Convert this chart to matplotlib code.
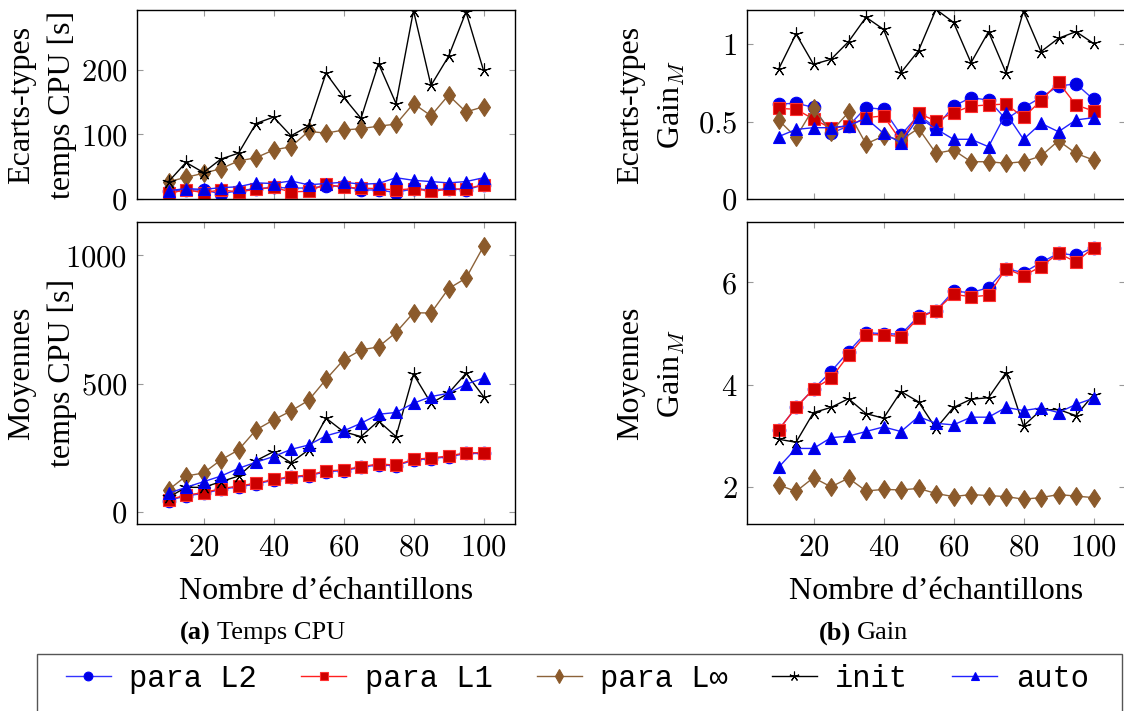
import matplotlib
matplotlib.use('Agg')
import matplotlib.pyplot as plt
from matplotlib.ticker import FuncFormatter
from matplotlib.lines import Line2D
from matplotlib.patches import Rectangle

plt.rcParams['font.family'] = ['Liberation Serif', 'DejaVu Serif']
plt.rcParams['mathtext.fontset'] = 'cm'

# nombre d'echantillons
n = [10, 15, 20, 25, 30, 35, 40, 45, 50, 55, 60, 65, 70, 75, 80, 85, 90, 95, 100]

# (a) temps CPU - ecarts-types
std_cpu_l2 = [12, 14, 14, 8, 13, 16, 18, 17, 17, 20, 20, 14, 14, 10, 16, 14, 16, 14, 22]
std_cpu_l1 = [9, 14, 10, 14, 11, 15, 18, 11, 12, 23, 18, 17, 16, 14, 16, 12, 15, 16, 22]
std_cpu_linf = [27, 33.5, 40, 47, 59, 64, 76, 81, 105, 102, 107, 109, 113, 116, 148, 129, 161, 135, 143]
std_cpu_init = [26.8, 56.7, 41, 62, 71, 117, 127, 98, 113, 195, 158, 125, 210, 148, 292, 176, 221, 290, 199.5]
std_cpu_auto = [13, 16, 15, 17.5, 19, 25, 24, 28, 22, 24, 26, 23, 24, 33, 29, 27, 25, 27, 33]

# (a) temps CPU - moyennes
moy_cpu_l2 = [43, 62, 71, 87, 97, 108, 123, 134, 140, 156, 160, 173, 183, 179, 201, 207, 214, 227, 227]
moy_cpu_l1 = [46, 65, 74, 90, 100, 111, 126, 137, 143, 159, 163, 176, 186, 182, 204, 210, 217, 230, 230]
moy_cpu_linf = [85, 139, 151, 202, 241, 319, 358, 393, 434, 516, 592, 631, 643, 699, 776, 775, 870, 911, 1035]
moy_cpu_init = [56, 95, 95, 117, 139, 199, 234, 191, 241, 365, 312, 293, 354, 293, 536, 423, 462, 540, 449]
moy_cpu_auto = [72, 95, 117, 139, 169, 193, 215, 243, 260, 296, 315, 345, 380, 387, 423, 449, 462, 497, 521]

# (b) gain - ecarts-types
std_gain_l2 = [0.614, 0.619, 0.593, 0.425, 0.472, 0.591, 0.580, 0.414, 0.543, 0.461, 0.601, 0.655, 0.640, 0.515, 0.591, 0.657, 0.731, 0.744, 0.644]
std_gain_l1 = [0.586, 0.580, 0.517, 0.457, 0.472, 0.526, 0.537, 0.375, 0.554, 0.504, 0.558, 0.601, 0.608, 0.614, 0.528, 0.636, 0.754, 0.608, 0.569]
std_gain_linf = [0.511, 0.399, 0.586, 0.435, 0.560, 0.356, 0.407, 0.381, 0.457, 0.295, 0.317, 0.241, 0.241, 0.231, 0.241, 0.278, 0.377, 0.295, 0.252]
std_gain_init = [0.838, 1.067, 0.871, 0.903, 1.017, 1.175, 1.097, 0.817, 0.959, 1.226, 1.142, 0.881, 1.082, 0.817, 1.216, 0.953, 1.039, 1.082, 1.006]
std_gain_auto = [0.403, 0.450, 0.461, 0.461, 0.474, 0.522, 0.425, 0.364, 0.528, 0.453, 0.386, 0.386, 0.338, 0.554, 0.386, 0.489, 0.435, 0.511, 0.526]

# (b) gain - moyennes
moy_gain_l2 = [3.12, 3.56, 3.92, 4.26, 4.65, 5.02, 5.00, 4.99, 5.34, 5.45, 5.83, 5.80, 5.90, 6.27, 6.19, 6.39, 6.57, 6.53, 6.68]
moy_gain_l1 = [3.12, 3.56, 3.92, 4.13, 4.58, 4.98, 4.98, 4.94, 5.31, 5.45, 5.77, 5.72, 5.75, 6.27, 6.13, 6.31, 6.57, 6.40, 6.68]
moy_gain_linf = [2.05, 1.92, 2.19, 2.01, 2.18, 1.93, 1.96, 1.95, 1.98, 1.88, 1.82, 1.86, 1.84, 1.82, 1.77, 1.80, 1.86, 1.83, 1.80]
moy_gain_init = [2.94, 2.88, 3.46, 3.56, 3.73, 3.44, 3.35, 3.87, 3.67, 3.15, 3.56, 3.72, 3.75, 4.24, 3.20, 3.51, 3.52, 3.40, 3.81]
moy_gain_auto = [2.39, 2.76, 2.76, 2.97, 3.00, 3.09, 3.18, 3.09, 3.38, 3.25, 3.22, 3.37, 3.37, 3.56, 3.50, 3.55, 3.46, 3.62, 3.74]

labels = ['para L2', 'para L1', 'para L\u221e', 'init', 'auto']

# style de chaque courbe : couleur ligne, marqueur, remplissage, bord, taille
styles = {
    'para L2': dict(color='#3333ff', marker='o', mfc='#0000e0', mec='#0000ff', ms=9),
    'para L1': dict(color='#ff2020', marker='s', mfc='#cc0000', mec='#ff3030', ms=8.5),
    'para L\u221e': dict(color='#8c6239', marker='d', mfc='#8b5a2b', mec='#8b5a2b', ms=9.5),
    'init': dict(color='black', marker=(5, 2, 0), mfc='black', mec='black', ms=10),
    'auto': dict(color='#2222ff', marker='^', mfc='#0000e0', mec='#0000ff', ms=9),
}

W, H = 1124, 711
fig = plt.figure(figsize=(W / 100, H / 100), dpi=100)


def box(l, t, r, b):
    return [l / W, 1 - b / H, (r - l) / W, (b - t) / H]


ax_tl = fig.add_axes(box(137, 10, 515, 199))
ax_bl = fig.add_axes(box(137, 222, 515, 524))
ax_tr = fig.add_axes(box(747, 10, 1125, 199))
ax_br = fig.add_axes(box(747, 222, 1125, 524))

panels = [
    (ax_tl, [std_cpu_l2, std_cpu_l1, std_cpu_linf, std_cpu_init, std_cpu_auto], (0, 293), [0, 100, 200], 'Ecarts-types\ntemps CPU [s]'),
    (ax_bl, [moy_cpu_l2, moy_cpu_l1, moy_cpu_linf, moy_cpu_init, moy_cpu_auto], (-48, 1130), [0, 500, 1000], 'Moyennes\ntemps CPU [s]'),
    (ax_tr, [std_gain_l2, std_gain_l1, std_gain_linf, std_gain_init, std_gain_auto], (0, 1.222), [0, 0.5, 1], 'Ecarts-types\nGain$_M$'),
    (ax_br, [moy_gain_l2, moy_gain_l1, moy_gain_linf, moy_gain_init, moy_gain_auto], (1.285, 7.18), [2, 4, 6], 'Moyennes\nGain$_M$'),
]

math_fmt = FuncFormatter(lambda v, p: '$%g$' % v)

for ax, series, ylim, yticks, ylab in panels:
    for lab, vals in zip(labels, series):
        st = styles[lab]
        ax.plot(n, vals, color=st['color'], lw=1.0, marker=st['marker'],
                markerfacecolor=st['mfc'], markeredgecolor=st['mec'],
                markersize=st['ms'], markeredgewidth=0.8)
    ax.set_xlim(1, 109)
    ax.set_ylim(*ylim)
    ax.set_xticks([20, 40, 60, 80, 100])
    ax.set_yticks(yticks)
    ax.xaxis.set_major_formatter(math_fmt)
    ax.yaxis.set_major_formatter(math_fmt)
    ax.tick_params(direction='in', length=4.5, width=0.8, color='#999999',
                   top=True, right=True, labelsize=22)
    ax.tick_params(axis='y', pad=7)
    ax.tick_params(axis='x', pad=7)
    for sp in ax.spines.values():
        sp.set_linewidth(1.0)
        sp.set_color('black')
    ax.set_ylabel(ylab, fontsize=23, linespacing=1.5, ha='center', va='center')
    ax.yaxis.set_label_coords(-95 / 378, 0.5)

for ax in (ax_tl, ax_tr):
    ax.tick_params(axis='x', labelbottom=False)

for ax in (ax_bl, ax_br):
    ax.set_xlabel('Nombre d\u2019\u00e9chantillons', fontsize=23, labelpad=10)

# legendes des sous-figures
fig.text(211 / W, 1 - 633 / H, '(a)', fontsize=19, fontweight='bold', ha='right', va='center')
fig.text(217 / W, 1 - 633 / H, 'Temps CPU', fontsize=19, ha='left', va='center')
fig.text(851 / W, 1 - 633 / H, '(b)', fontsize=19, fontweight='bold', ha='right', va='center')
fig.text(857 / W, 1 - 633 / H, 'Gain', fontsize=19, ha='left', va='center')

# legende commune
handles = []
for lab in labels:
    st = styles[lab]
    handles.append(Line2D([], [], color=st['color'], lw=1.0, marker=st['marker'],
                          markerfacecolor=st['mfc'], markeredgecolor=st['mec'],
                          markersize=st['ms'] * 0.7, markeredgewidth=0.8))
fig.patches.append(Rectangle((37 / W, -0.05), (1122 - 37) / W, (1 - 654 / H) + 0.05,
                             transform=fig.transFigure, fill=False,
                             edgecolor='#555555', lw=1.0))
fig.legend(handles, labels, loc='upper left', bbox_to_anchor=(66 / W, 1 - 664 / H),
           ncol=5, frameon=False, borderpad=0, borderaxespad=0,
           handlelength=1.47, handletextpad=0.6, columnspacing=1.45,
           prop={'family': ['Liberation Mono', 'DejaVu Sans Mono'], 'size': 22})

fig.savefig('out.png', dpi=100)
